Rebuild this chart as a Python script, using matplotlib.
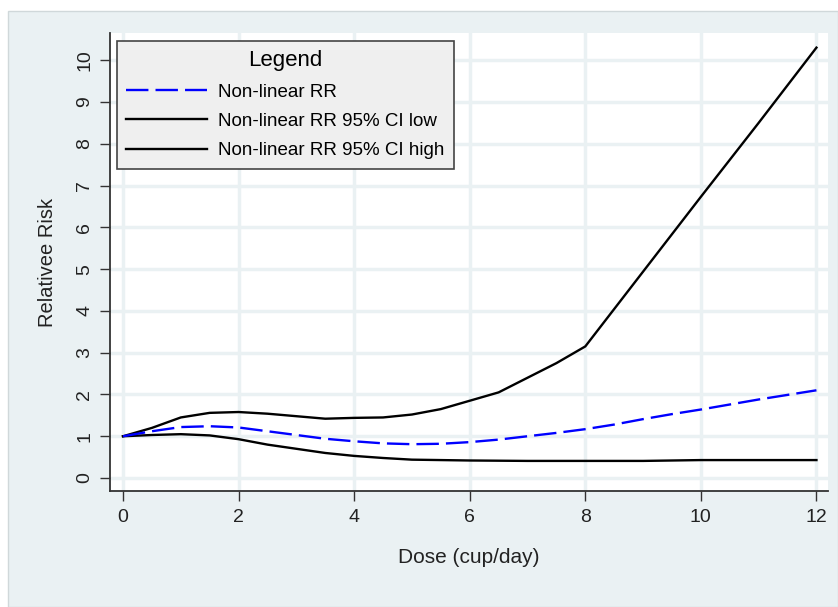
import matplotlib.pyplot as plt
from matplotlib.patches import Rectangle

# dose (cup/day) and relative risk values
dose_rr = [0, 0.5, 1.0, 1.5, 2.0, 2.5, 3.0, 3.5, 4.0, 4.5, 5.0, 5.5, 6.0, 6.5, 7.0, 7.5, 8.0, 8.5, 9.0, 9.5, 10.0, 10.5, 11.0, 11.5, 12.0]
rr = [1.0, 1.12, 1.22, 1.24, 1.21, 1.12, 1.03, 0.94, 0.88, 0.83, 0.81, 0.82, 0.86, 0.92, 1.0, 1.08, 1.17, 1.28, 1.41, 1.53, 1.64, 1.76, 1.88, 1.99, 2.1]

dose_low = [0, 0.5, 1.0, 1.5, 2.0, 2.5, 3.0, 3.5, 4.0, 4.5, 5.0, 6.0, 7.0, 8.0, 9.0, 10.0, 11.0, 12.0]
ci_low = [1.0, 1.03, 1.05, 1.02, 0.93, 0.8, 0.7, 0.6, 0.53, 0.48, 0.44, 0.42, 0.41, 0.41, 0.41, 0.43, 0.43, 0.43]

dose_high = [0, 0.5, 1.0, 1.5, 2.0, 2.5, 3.0, 3.5, 4.0, 4.5, 5.0, 5.5, 6.0, 6.5, 7.0, 7.5, 8.0, 9.0, 10.0, 11.0, 12.0]
ci_high = [1.0, 1.2, 1.45, 1.56, 1.58, 1.54, 1.48, 1.42, 1.44, 1.45, 1.52, 1.65, 1.85, 2.05, 2.4, 2.75, 3.15, 4.94, 6.73, 8.5, 10.3]

xticks = [0, 2, 4, 6, 8, 10, 12]
yticks = list(range(0, 11))

plt.rcParams['font.family'] = ['Liberation Sans', 'DejaVu Sans']

fig = plt.figure(figsize=(8.38, 6.07), dpi=100)
fig.patch.set_facecolor('white')

# light panel behind the plot
fig.patches.append(Rectangle((8 / 838, 0), 1 - 8 / 838, 1 - 11 / 607, transform=fig.transFigure,
                             facecolor='#eaf1f3', edgecolor='#d0d8da', linewidth=1, zorder=-5))

ax = fig.add_axes([110 / 838, 1 - 491 / 607, (828 - 110) / 838, (491 - 33) / 607])
ax.set_zorder(1)
ax.set_facecolor('white')

ax.plot(dose_rr, rr, color='#0000ff', linestyle=(0, (9.5, 3)), linewidth=1.7, label='Non-linear RR', zorder=3)
ax.plot(dose_low, ci_low, color='black', linewidth=1.7, label='Non-linear RR 95% CI low', zorder=2)
ax.plot(dose_high, ci_high, color='black', linewidth=1.7, label='Non-linear RR 95% CI high', zorder=2)

ax.set_xlim(-0.225, 12.2)
ax.set_ylim(-0.31, 10.65)
ax.set_xticks(xticks)
ax.set_yticks(yticks)
ax.set_yticklabels([str(t) for t in yticks], rotation=90, va='center')
ax.tick_params(axis='both', labelsize=14, length=7, width=1, color='#333333', labelcolor='#222222')
ax.tick_params(axis='x', pad=6)
ax.tick_params(axis='y', pad=5)

ax.grid(True, color='#eaf1f3', linewidth=2.5)
ax.set_axisbelow(True)
for side in ['top', 'right']:
    ax.spines[side].set_visible(False)
for side in ['left', 'bottom']:
    ax.spines[side].set_linewidth(1.3)
    ax.spines[side].set_color('#333333')

ax.set_xlabel('Dose (cup/day)', fontsize=15, labelpad=16, color='#222222')
ax.set_ylabel('Relativee Risk', fontsize=14.5, labelpad=14, color='#222222')

leg = ax.legend(loc='upper left', bbox_to_anchor=(0.0097, 0.9825), title='Legend', fontsize=13.5,
                title_fontsize=16, frameon=True, fancybox=False, facecolor='#efefef',
                edgecolor='#444444', handlelength=4.3, borderpad=0.5, labelspacing=0.65,
                handletextpad=0.6, borderaxespad=0)
leg.get_frame().set_linewidth(1.2)
leg.get_frame().set_alpha(1)

fig.savefig('out.png', dpi=100)
